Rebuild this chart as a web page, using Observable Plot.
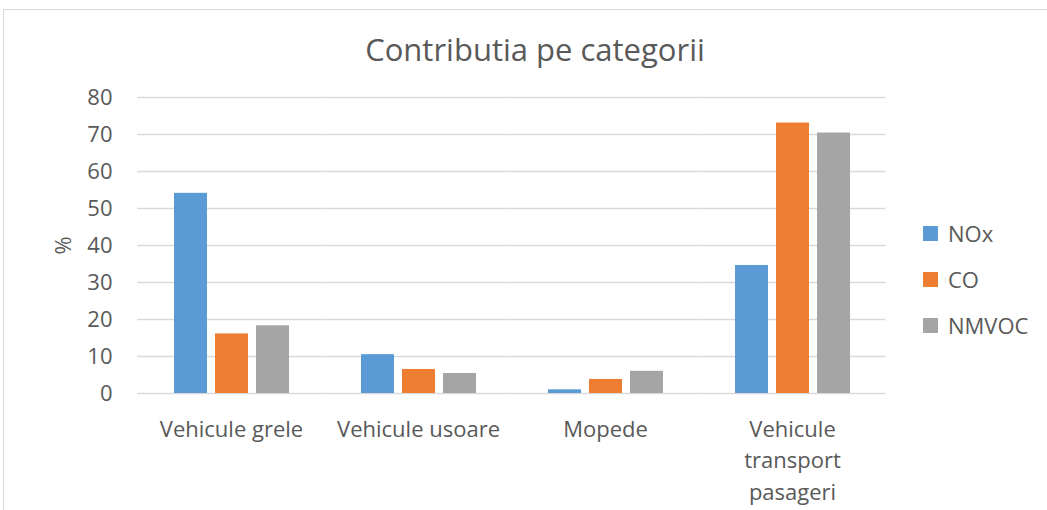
<!DOCTYPE html>
<html><head><meta charset="utf-8">
<script src="https://cdn.jsdelivr.net/npm/d3@7"></script>
<script src="https://cdn.jsdelivr.net/npm/@observablehq/plot@0.6"></script>
<style>
body{margin:0;background:#fff;font-family:"Open Sans",sans-serif;}
#wrap{position:relative;width:1047px;height:510px;overflow:hidden;background:#fff;}
#frame{position:absolute;left:3px;top:9px;width:1100px;height:600px;border:1px solid #d9d9d9;}
#title{position:absolute;left:0;width:1070px;top:29px;text-align:center;font-size:31px;color:#595959;line-height:40px;}
#chart{position:absolute;left:0;top:0;}
#legend{position:absolute;left:923px;top:210px;color:#595959;font-size:22px;}
#legend .item{display:flex;align-items:center;height:46px;}
#legend .sw{width:15px;height:15px;margin-right:10px;}
</style></head>
<body>
<div id="wrap">
  <div id="frame"></div>
  <div id="title">Contributia pe categorii</div>
  <div id="chart"></div>
  <div id="legend"></div>
</div>
<script>
const categories = ["Vehicule grele", "Vehicule usoare", "Mopede", "Vehicule transport pasageri"];
const categoryLabels = ["Vehicule grele", "Vehicule usoare", "Mopede", "Vehicule\ntransport\npasageri"];
const series = ["NOx", "CO", "NMVOC"];
const colors = ["#5B9BD5", "#ED7D31", "#A5A5A5"];
const noxValues = [54.1, 10.5, 1.0, 34.6];
const coValues = [16.1, 6.5, 3.8, 73.1];
const nmvocValues = [18.3, 5.4, 6.0, 70.4];
const yTicks = [0, 10, 20, 30, 40, 50, 60, 70, 80];

const valuesBySeries = [noxValues, coValues, nmvocValues];
const data = [];
categories.forEach((c, i) => {
  series.forEach((s, j) => data.push({category: c, series: s, value: valuesBySeries[j][i]}));
});

const chart = Plot.plot({
  width: 1047,
  height: 510,
  marginLeft: 137,
  marginRight: 162,
  marginTop: 97,
  marginBottom: 117,
  style: {fontFamily: "'Open Sans', sans-serif", fontSize: "22px", color: "#595959", background: "transparent", overflow: "visible"},
  fx: {domain: categories, paddingInner: 0.38, paddingOuter: 0.18},
  x: {domain: series, paddingInner: 0.2, paddingOuter: 0, axis: null},
  y: {domain: [0, 80]},
  color: {domain: series, range: colors},
  marks: [
    Plot.ruleY(yTicks, {stroke: "#D9D9D9", strokeWidth: 1.3, insetLeft: -35.6, insetRight: -35.6}),
    Plot.barY(data, {fx: "category", x: "series", y: "value", fill: "series"}),
    Plot.axisY({ticks: yTicks, tickSize: 0, tickPadding: 61, fontSize: 22, label: "%", labelAnchor: "center", labelArrow: "none", labelOffset: 118}),
    Plot.axisFx({anchor: "bottom", tickSize: 0, tickPadding: 21, fontSize: 22, lineHeight: 1.43, label: null,
      tickFormat: d => categoryLabels[categories.indexOf(d)]})
  ]
});
document.getElementById("chart").appendChild(chart);

const legend = document.getElementById("legend");
series.forEach((s, j) => {
  const item = document.createElement("div");
  item.className = "item";
  const sw = document.createElement("div");
  sw.className = "sw";
  sw.style.background = colors[j];
  const t = document.createElement("span");
  t.textContent = s;
  item.appendChild(sw);
  item.appendChild(t);
  legend.appendChild(item);
});
</script>
</body></html>
